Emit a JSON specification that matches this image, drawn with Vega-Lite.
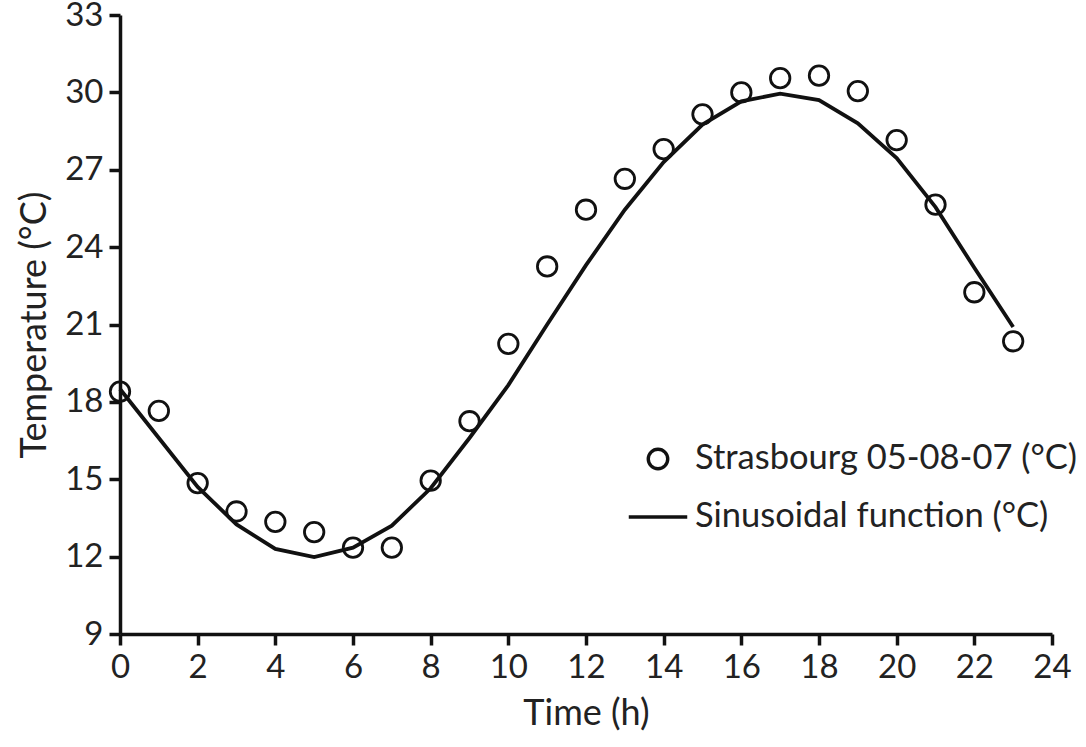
{
  "$schema": "https://vega.github.io/schema/vega-lite/v6.json",
  "autosize": {"type": "none"},
  "padding": {"left": 120, "top": 15, "right": 34, "bottom": 113},
  "width": 932,
  "height": 619,
  "background": "white",
  "config": {
    "font": "Lato",
    "view": {"stroke": null},
    "axis": {
      "domainColor": "#111111",
      "domainWidth": 3.5,
      "tickColor": "#111111",
      "tickWidth": 3.5,
      "tickSize": 11,
      "grid": false,
      "labelFlush": false,
      "labelOverlap": false,
      "labelFont": "Lato",
      "labelFontSize": 33,
      "labelColor": "#222222",
      "labelPadding": 6,
      "titleFont": "Lato",
      "titleFontSize": 36,
      "titleFontWeight": "normal",
      "titleColor": "#222222"
    }
  },
  "datasets": {
    "obs": [
      {"hour": 0, "temp": 18.4, "series": "Strasbourg 05-08-07 (°C)"},
      {"hour": 1, "temp": 17.65, "series": "Strasbourg 05-08-07 (°C)"},
      {"hour": 2, "temp": 14.85, "series": "Strasbourg 05-08-07 (°C)"},
      {"hour": 3, "temp": 13.75, "series": "Strasbourg 05-08-07 (°C)"},
      {"hour": 4, "temp": 13.35, "series": "Strasbourg 05-08-07 (°C)"},
      {"hour": 5, "temp": 12.95, "series": "Strasbourg 05-08-07 (°C)"},
      {"hour": 6, "temp": 12.35, "series": "Strasbourg 05-08-07 (°C)"},
      {"hour": 7, "temp": 12.35, "series": "Strasbourg 05-08-07 (°C)"},
      {"hour": 8, "temp": 14.95, "series": "Strasbourg 05-08-07 (°C)"},
      {"hour": 9, "temp": 17.25, "series": "Strasbourg 05-08-07 (°C)"},
      {"hour": 10, "temp": 20.25, "series": "Strasbourg 05-08-07 (°C)"},
      {"hour": 11, "temp": 23.25, "series": "Strasbourg 05-08-07 (°C)"},
      {"hour": 12, "temp": 25.45, "series": "Strasbourg 05-08-07 (°C)"},
      {"hour": 13, "temp": 26.65, "series": "Strasbourg 05-08-07 (°C)"},
      {"hour": 14, "temp": 27.8, "series": "Strasbourg 05-08-07 (°C)"},
      {"hour": 15, "temp": 29.15, "series": "Strasbourg 05-08-07 (°C)"},
      {"hour": 16, "temp": 30.0, "series": "Strasbourg 05-08-07 (°C)"},
      {"hour": 17, "temp": 30.55, "series": "Strasbourg 05-08-07 (°C)"},
      {"hour": 18, "temp": 30.65, "series": "Strasbourg 05-08-07 (°C)"},
      {"hour": 19, "temp": 30.05, "series": "Strasbourg 05-08-07 (°C)"},
      {"hour": 20, "temp": 28.15, "series": "Strasbourg 05-08-07 (°C)"},
      {"hour": 21, "temp": 25.65, "series": "Strasbourg 05-08-07 (°C)"},
      {"hour": 22, "temp": 22.25, "series": "Strasbourg 05-08-07 (°C)"},
      {"hour": 23, "temp": 20.35, "series": "Strasbourg 05-08-07 (°C)"}
    ],
    "fit": [
      {"hour": 0, "temp": 18.5},
      {"hour": 1, "temp": 16.6},
      {"hour": 2, "temp": 14.7},
      {"hour": 3, "temp": 13.25},
      {"hour": 4, "temp": 12.3},
      {"hour": 5, "temp": 11.98},
      {"hour": 6, "temp": 12.35},
      {"hour": 7, "temp": 13.2},
      {"hour": 8, "temp": 14.65},
      {"hour": 9, "temp": 16.6},
      {"hour": 10, "temp": 18.65},
      {"hour": 11, "temp": 21.0},
      {"hour": 12, "temp": 23.3},
      {"hour": 13, "temp": 25.45},
      {"hour": 14, "temp": 27.3},
      {"hour": 15, "temp": 28.75},
      {"hour": 16, "temp": 29.65},
      {"hour": 17, "temp": 29.95},
      {"hour": 18, "temp": 29.7},
      {"hour": 19, "temp": 28.8},
      {"hour": 20, "temp": 27.45},
      {"hour": 21, "temp": 25.55},
      {"hour": 22, "temp": 23.2},
      {"hour": 23, "temp": 20.9}
    ]
  },
  "encoding": {
    "x": {
      "field": "hour",
      "type": "quantitative",
      "scale": {"domain": [0, 24], "nice": false, "zero": false},
      "axis": {
        "title": "Time (h)",
        "values": [0, 2, 4, 6, 8, 10, 12, 14, 16, 18, 20, 22, 24],
        "titleY": 90,
        "titleBaseline": "alphabetic"
      }
    },
    "y": {
      "field": "temp",
      "type": "quantitative",
      "scale": {"domain": [9, 33], "nice": false, "zero": false},
      "axis": {
        "title": "Temperature (°C)",
        "values": [9, 12, 15, 18, 21, 24, 27, 30, 33],
        "titleX": -86,
        "titleBaseline": "middle",
        "titleAngle": -90
      }
    }
  },
  "layer": [
    {
      "data": {"name": "fit"},
      "mark": {"type": "line", "color": "#111111", "strokeWidth": 3.8, "interpolate": "linear"}
    },
    {
      "data": {"name": "obs"},
      "mark": {"type": "point", "filled": false, "color": "#111111", "strokeWidth": 2.8, "size": 3420, "opacity": 1},
      "encoding": {
        "shape": {
          "field": "series",
          "type": "nominal",
          "scale": {
            "domain": ["Strasbourg 05-08-07 (°C)", "Sinusoidal function (°C)"],
            "range": [
              "M0.333,0A0.333,0.333,0,1,1,-0.333,0A0.333,0.333,0,1,1,0.333,0Z",
              "M-1,0H1"
            ]
          },
          "legend": {
            "title": null,
            "orient": "none",
            "legendX": 507,
            "legendY": 413,
            "padding": 0,
            "symbolSize": 3420,
            "symbolStrokeWidth": 3.4,
            "symbolStrokeColor": "#111111",
            "symbolFillColor": "transparent",
            "symbolOpacity": 1,
            "labelFont": "Lato",
            "labelFontSize": 34.5,
            "labelColor": "#222222",
            "labelOffset": 6,
            "labelLimit": 600,
            "rowPadding": 10
          }
        }
      }
    }
  ]
}
